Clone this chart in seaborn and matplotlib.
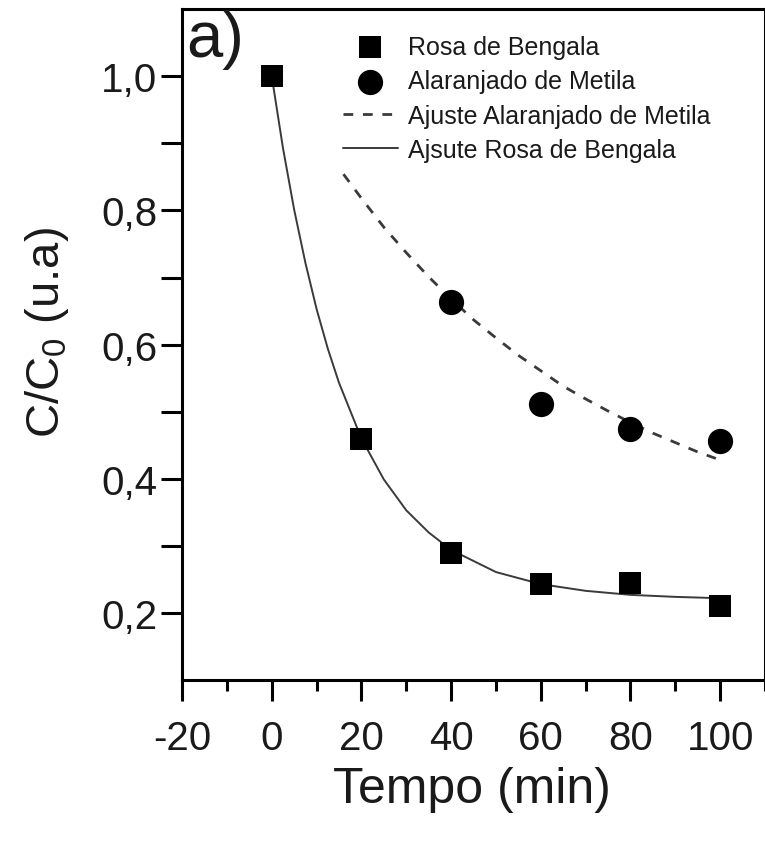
"""
Recreate panel a): C/C0 vs time for Rosa de Bengala and Alaranjado de Metila.
Saves out.png
"""
import matplotlib
matplotlib.use('Agg')
import matplotlib.pyplot as plt
import seaborn as sns
import pandas as pd
from matplotlib.ticker import FixedLocator, MultipleLocator, FixedFormatter

# measured points
tempo = [0, 20, 40, 60, 80, 100]
rosa = [1.0, 0.459, 0.290, 0.243, 0.245, 0.210]
tempo_metila = [40, 60, 80, 100]
metila = [0.663, 0.511, 0.474, 0.456]

# fitted curves
tempo_ajuste_rosa = [0, 2.5, 5, 7.5, 10, 12.5, 15, 20, 25, 30, 35, 40, 50, 60, 70, 80, 90, 100]
ajuste_rosa = [1.0, 0.893, 0.801, 0.722, 0.653, 0.594, 0.543, 0.460, 0.399, 0.353,
               0.320, 0.294, 0.261, 0.243, 0.233, 0.227, 0.224, 0.222]
tempo_ajuste_metila = [16, 20, 25, 30, 35, 40, 45, 50, 55, 60, 65, 70, 75, 80, 85, 90, 95, 100]
ajuste_metila = [0.854, 0.818, 0.775, 0.737, 0.701, 0.668, 0.637, 0.610, 0.584, 0.561,
                 0.538, 0.519, 0.501, 0.484, 0.468, 0.454, 0.440, 0.428]

y_ticks = [0.2, 0.4, 0.6, 0.8, 1.0]
y_tick_labels = ['0,2', '0,4', '0,6', '0,8', '1,0']
x_ticks = [-20, 0, 20, 40, 60, 80, 100]

INK = '#1a1a1a'


def main():
    sns.set_style('ticks')
    plt.rcParams['font.family'] = ['Liberation Sans', 'DejaVu Sans']
    plt.rcParams['mathtext.fontset'] = 'custom'
    plt.rcParams['mathtext.rm'] = 'Liberation Sans'
    plt.rcParams['axes.unicode_minus'] = False
    plt.rcParams['text.color'] = INK
    plt.rcParams['axes.labelcolor'] = INK
    plt.rcParams['xtick.color'] = 'black'
    plt.rcParams['ytick.color'] = 'black'
    plt.rcParams['xtick.labelcolor'] = INK
    plt.rcParams['ytick.labelcolor'] = INK

    fig = plt.figure(figsize=(7.65, 8.45), dpi=100)
    ax = fig.add_axes([0.238, 0.194, 0.762, 0.794])

    df_rosa = pd.DataFrame({'t': tempo, 'c': rosa})
    df_met = pd.DataFrame({'t': tempo_metila, 'c': metila})
    df_fit_r = pd.DataFrame({'t': tempo_ajuste_rosa, 'c': ajuste_rosa})
    df_fit_m = pd.DataFrame({'t': tempo_ajuste_metila, 'c': ajuste_metila})

    sns.lineplot(data=df_fit_r, x='t', y='c', ax=ax, color='#3a3a3a', linewidth=1.4,
                 label='Ajsute Rosa de Bengala', sort=False)
    sns.lineplot(data=df_fit_m, x='t', y='c', ax=ax, color='#3a3a3a', linewidth=2.0,
                 linestyle=(0, (3.5, 3.5)), label='Ajuste Alaranjado de Metila', sort=False)
    sns.scatterplot(data=df_rosa, x='t', y='c', ax=ax, marker='s', s=250, color='black',
                    edgecolor='black', linewidth=0, label='Rosa de Bengala', zorder=3)
    sns.scatterplot(data=df_met, x='t', y='c', ax=ax, marker='o', s=330, color='black',
                    edgecolor='black', linewidth=0, label='Alaranjado de Metila', zorder=3)

    ax.set_xlim(-20, 110)
    ax.set_ylim(0.1, 1.1)
    ax.xaxis.set_major_locator(FixedLocator(x_ticks))
    ax.xaxis.set_minor_locator(MultipleLocator(10))
    ax.yaxis.set_major_locator(FixedLocator(y_ticks))
    ax.yaxis.set_major_formatter(FixedFormatter(y_tick_labels))
    ax.yaxis.set_minor_locator(FixedLocator([0.3, 0.5, 0.7, 0.9]))

    for s in ax.spines.values():
        s.set_linewidth(2.2)
        s.set_color('black')
    ax.tick_params(axis='both', which='major', width=2.2, length=15, labelsize=29,
                   direction='out')
    ax.tick_params(axis='x', which='major', pad=13)
    ax.tick_params(axis='y', which='major', pad=3)
    ax.tick_params(axis='x', which='minor', width=2.2, length=8, direction='out')
    ax.tick_params(axis='y', which='minor', width=2.2, length=15, direction='out')

    ax.set_xlabel('Tempo (min)', fontsize=36)
    ax.set_ylabel(r'C/C$_\mathregular{0}$ (u.a)', fontsize=34)
    ax.xaxis.set_label_coords(0.497, -0.128)
    ax.yaxis.set_label_coords(-0.19, 0.52)

    ax.text(0.008, 1.0, 'a)', transform=ax.transAxes, fontsize=47, ha='left', va='top')

    handles, labels = ax.get_legend_handles_labels()
    order = ['Rosa de Bengala', 'Alaranjado de Metila',
             'Ajuste Alaranjado de Metila', 'Ajsute Rosa de Bengala']
    hmap = dict(zip(labels, handles))
    ax.legend([hmap[k] for k in order], order, loc='upper left',
              bbox_to_anchor=(0.276, 0.962), frameon=False, fontsize=18,
              borderpad=0, borderaxespad=0, handlelength=2.2, handletextpad=0.4,
              labelspacing=0.42, markerscale=1.0)

    fig.savefig('out.png', dpi=100)
    plt.close(fig)


if __name__ == '__main__':
    main()
